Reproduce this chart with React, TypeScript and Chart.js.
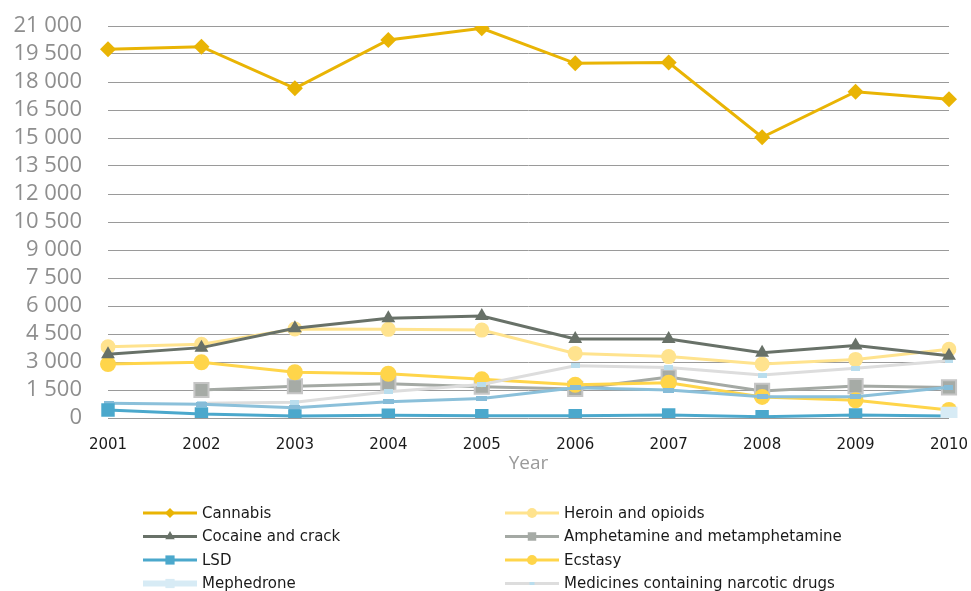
import React, { useEffect, useRef } from 'react';
import { Chart, registerables } from 'chart.js';
import { drawPoint } from 'chart.js/helpers';

Chart.register(...registerables);

const years = ['2001', '2002', '2003', '2004', '2005', '2006', '2007', '2008', '2009', '2010'];
const yTicks = [0, 1500, 3000, 4500, 6000, 7500, 9000, 10500, 12000, 13500, 15000, 16500, 18000, 19500, 21000];

const cannabis = [19750, 19890, 17660, 20250, 20880, 19000, 19040, 15040, 17480, 17070];
const heroin = [3820, 3950, 4770, 4750, 4710, 3460, 3290, 2890, 3140, 3680];
const cocaine = [3410, 3770, 4810, 5340, 5460, 4230, 4230, 3500, 3880, 3330];
const amphetamine = [null, 1500, 1700, 1840, 1680, 1560, 2200, 1450, 1710, 1640];
const lsd = [430, 210, 110, 150, 120, 120, 160, 70, 160, 110];
const ecstasy = [2890, 2980, 2450, 2370, 2070, 1780, 1890, 1130, 950, 430];
const mephedrone = [null, null, null, null, null, null, null, null, null, 150];
const medicines = [null, 790, 840, 1410, 1800, 2800, 2700, 2300, 2660, 3070];
const otherSeries = [790, 730, 550, 875, 1050, 1625, 1500, 1143, 1143, 1643];

const seriesNames = [
  'Cannabis',
  'Heroin and opioids',
  'Cocaine and crack',
  'Amphetamine and metamphetamine',
  'LSD',
  'Ecstasy',
  'Mephedrone',
  'Medicines containing narcotic drugs',
];

function flatMarker(w: number, h: number, color: string): HTMLCanvasElement {
  const c = document.createElement('canvas');
  c.width = w;
  c.height = h;
  const g = c.getContext('2d');
  if (g) {
    g.fillStyle = color;
    g.fillRect(0, 0, w, h);
  }
  return c;
}

const fmt = (v: number) => String(v).replace(/\B(?=(\d{3})+(?!\d))/g, ' ');

const legendLook: any[] = [
  { style: 'rectRot', r: 5, lw: 3 },
  { style: 'circle', r: 5, lw: 3 },
  { style: 'triangle', r: 5.5, lw: 3 },
  { style: 'rect', r: 6, lw: 3 },
  { style: 'rect', r: 6.5, lw: 3 },
  { style: 'circle', r: 5, lw: 3 },
  { style: 'rect', r: 6.5, lw: 6 },
  { style: 'flat', r: 0, lw: 3 },
];

const gridLegend = {
  id: 'gridLegend',
  afterDraw(chart: any) {
    const ctx = chart.ctx;
    const colX = [143, 505];
    const lineLen = 54;
    const y0 = 513;
    const rowH = 23.5;
    ctx.save();
    for (let i = 0; i < seriesNames.length; i++) {
      const ds = chart.data.datasets[i];
      const look = legendLook[i];
      const x = colX[i % 2];
      const y = y0 + Math.floor(i / 2) * rowH;
      ctx.strokeStyle = ds.borderColor;
      ctx.lineWidth = look.lw;
      ctx.beginPath();
      ctx.moveTo(x, y);
      ctx.lineTo(x + lineLen, y);
      ctx.stroke();
      const cx = x + lineLen / 2;
      if (look.style === 'flat') {
        ctx.fillStyle = '#B9DDED';
        ctx.fillRect(cx - 2.5, y - 1.5, 5, 3);
      } else {
        ctx.fillStyle = ds.pointBackgroundColor;
        ctx.strokeStyle = ds.pointBorderColor || ds.pointBackgroundColor;
        ctx.lineWidth = 0;
        drawPoint(ctx, { pointStyle: look.style, radius: look.r, borderWidth: 0, rotation: 0 } as any, cx, y);
      }
      ctx.fillStyle = '#1a1a1a';
      ctx.font = '15px "DejaVu Sans"';
      ctx.textBaseline = 'middle';
      ctx.textAlign = 'left';
      ctx.fillText(seriesNames[i], x + lineLen + 5, y + 1);
    }
    ctx.restore();
  },
};

export default function App() {
  const ref = useRef<HTMLCanvasElement | null>(null);

  useEffect(() => {
    if (!ref.current) return;
    const medMarker = flatMarker(9, 5, '#B9DDED');
    const otherMarker = flatMarker(11, 5, '#86BCD8');
    const chart = new Chart(ref.current, {
      type: 'line',
      data: {
        labels: years,
        datasets: [
          {
            label: seriesNames[0], data: cannabis, order: 0,
            borderColor: '#E9B404', borderWidth: 3,
            pointStyle: 'rectRot', pointRadius: 8, pointBackgroundColor: '#E9B404', pointBorderWidth: 0,
          },
          {
            label: seriesNames[1], data: heroin, order: 8,
            borderColor: '#FFE38E', borderWidth: 3,
            pointStyle: 'circle', pointRadius: 7.5, pointBackgroundColor: '#FFE38E', pointBorderWidth: 0,
          },
          {
            label: seriesNames[2], data: cocaine, order: 4,
            borderColor: '#687168', borderWidth: 3,
            pointStyle: 'triangle', pointRadius: 8, pointBackgroundColor: '#687168', pointBorderWidth: 0,
          },
          {
            label: seriesNames[3], data: amphetamine, order: 7,
            borderColor: '#A4A9A4', borderWidth: 3,
            pointStyle: 'rect', pointRadius: 10, pointBackgroundColor: '#A6ABA6', pointBorderColor: '#C6C6C6', pointBorderWidth: 2,
          },
          {
            label: seriesNames[4], data: lsd, order: 2,
            borderColor: '#4BA8CC', borderWidth: 3,
            pointStyle: 'rect', pointRadius: 9.5, pointBackgroundColor: '#4BA8CC', pointBorderWidth: 0,
          },
          {
            label: seriesNames[5], data: ecstasy, order: 6,
            borderColor: '#FFD54A', borderWidth: 3,
            pointStyle: 'circle', pointRadius: 8, pointBackgroundColor: '#FFD54A', pointBorderWidth: 0,
          },
          {
            label: seriesNames[6], data: mephedrone, order: 1,
            borderColor: '#D7EBF5', borderWidth: 6,
            pointStyle: 'rect', pointRadius: 12, pointBackgroundColor: '#D7EBF5', pointBorderWidth: 0,
          },
          {
            label: seriesNames[7], data: medicines, order: 5,
            borderColor: '#DDDDDD', borderWidth: 3,
            pointStyle: medMarker, pointRadius: 4, pointBackgroundColor: '#B9DDED', pointBorderWidth: 0,
          },
          {
            label: 'other', data: otherSeries, order: 3,
            borderColor: '#8BC0DA', borderWidth: 3,
            pointStyle: otherMarker, pointRadius: 4, pointBackgroundColor: '#86BCD8', pointBorderWidth: 0,
          },
        ] as any,
      },
      options: {
        animation: false,
        responsive: true,
        maintainAspectRatio: false,
        spanGaps: false,
        layout: { padding: { left: 0, right: 22, top: 26, bottom: 116 } },
        plugins: { legend: { display: false }, tooltip: { enabled: false } },
        elements: { line: { tension: 0 } },
        scales: {
          x: {
            type: 'category',
            offset: false,
            grid: { display: false, drawTicks: true, tickLength: 18, tickColor: 'rgba(0,0,0,0)' },
            border: { display: false },
            ticks: {
              padding: 0, color: '#1a1a1a', maxRotation: 0, autoSkip: false,
              font: { family: '"DejaVu Sans"', size: 15 },
            },
            title: {
              display: true, text: 'Year', color: '#9a9a9a', padding: 0,
              font: { family: '"Open Sans"', size: 19 },
            },
            afterFit: (s: any) => { s.height = 57; },
          },
          y: {
            min: 0,
            max: 21000,
            afterBuildTicks: (s: any) => { s.ticks = yTicks.map((v) => ({ value: v })); },
            ticks: {
              padding: 0, color: '#8e8e8e', autoSkip: false,
              font: { family: '"Open Sans"', size: 22 },
              callback: (v: any) => fmt(Number(v)),
            },
            grid: { color: '#9a9a9a', lineWidth: 1, drawTicks: true, tickLength: 26, tickColor: 'rgba(0,0,0,0)' },
            border: { display: false },
            afterFit: (s: any) => { s.width = 108; },
          },
        },
      },
      plugins: [gridLegend],
    } as any);
    return () => chart.destroy();
  }, []);

  return (
    <div style={{ position: 'absolute', left: 0, top: 0, width: 971, height: 591, background: '#fff' }}>
      <canvas ref={ref} />
    </div>
  );
}
